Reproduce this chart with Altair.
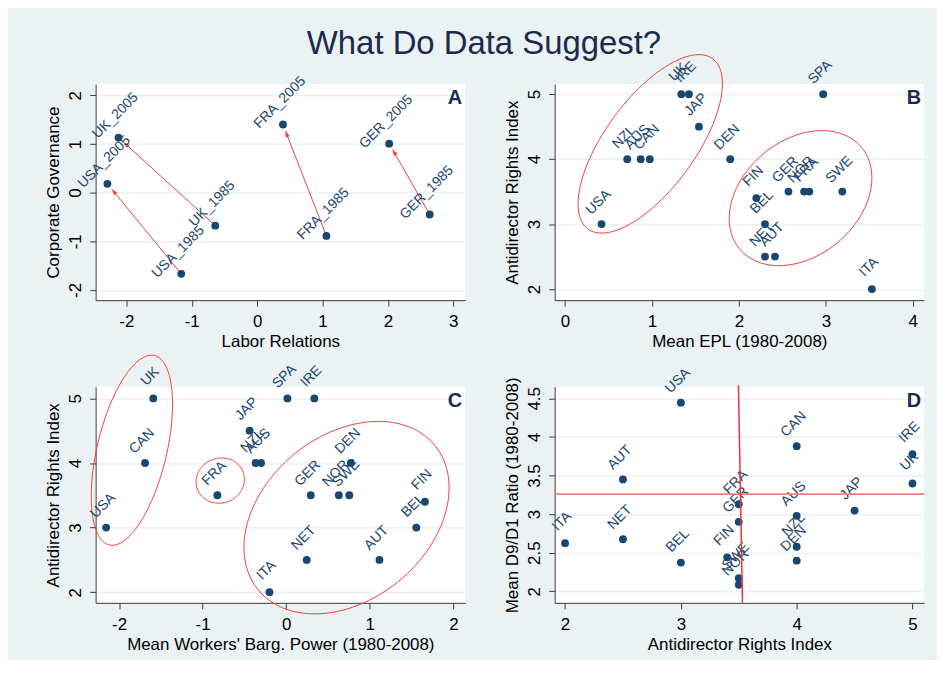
import altair as alt
import pandas as pd
import numpy as np

title_text = "What Do Data Suggest?"

# ---------------- Panel A ----------------
a_labels = ["USA_1985", "USA_2005", "UK_1985", "UK_2005",
            "FRA_1985", "FRA_2005", "GER_1985", "GER_2005"]
a_x = [-1.16, -2.29, -0.64, -2.12, 1.06, 0.395, 2.64, 2.02]
a_y = [-1.67, 0.18, -0.68, 1.13, -0.89, 1.40, -0.45, 1.005]
arrow_from = ["USA_1985", "UK_1985", "FRA_1985", "GER_1985"]
arrow_to = ["USA_2005", "UK_2005", "FRA_2005", "GER_2005"]

# ---------------- Panel B ----------------
b_countries = ["USA", "NZL", "AUS", "CAN", "UK", "IRE", "JAP", "DEN", "SPA",
               "FIN", "BEL", "NET", "AUT", "GER", "NOR", "FRA", "SWE", "ITA"]
b_epl = [0.42, 0.715, 0.87, 0.975, 1.337, 1.425, 1.54, 1.90, 2.97,
         2.20, 2.30, 2.30, 2.415, 2.57, 2.75, 2.81, 3.19, 3.53]
b_adri = [3, 4, 4, 4, 5, 5, 4.5, 4, 5, 3.4, 3, 2.5, 2.5, 3.5, 3.5, 3.5, 3.5, 2]

# ---------------- Panel C ----------------
c_countries = ["USA", "CAN", "UK", "FRA", "JAP", "NZL", "AUS", "SPA", "IRE",
               "ITA", "NET", "GER", "NOR", "SWE", "DEN", "AUT", "BEL", "FIN"]
c_wbp = [-2.154, -1.689, -1.59, -0.823, -0.437, -0.366, -0.30, 0.015, 0.337,
         -0.20, 0.246, 0.294, 0.63, 0.755, 0.774, 1.116, 1.557, 1.66]
c_adri = [3, 4, 5, 3.5, 4.5, 4, 4, 5, 5, 2, 2.5, 3.5, 3.5, 3.5, 4, 2.5, 3, 3.4]

# ---------------- Panel D ----------------
d_countries = ["USA", "CAN", "IRE", "UK", "AUT", "JAP", "AUS", "FRA", "GER",
               "ITA", "NET", "BEL", "FIN", "NZL", "DEN", "SWE", "NOR"]
d_adri = [3, 4, 5, 5, 2.5, 4.5, 4, 3.5, 3.5, 2, 2.5, 3, 3.4, 4, 4, 3.5, 3.5]
d_ratio = [4.444, 3.88, 3.777, 3.397, 3.449, 3.046, 2.978, 3.128, 2.90,
           2.623, 2.674, 2.372, 2.44, 2.577, 2.397, 2.17, 2.085]
d_hline_y = [3.26]
d_vline_x = [3.497, 3.532]
d_vline_y = [4.67, 1.85]

# axis domains and ticks
a_xdom, a_ydom = [-2.47, 3.18], [-2.21, 2.23]
b_xdom, b_ydom = [-0.12, 4.13], [1.83, 5.155]
c_xdom, c_ydom = [-2.28, 2.14], [1.835, 5.18]
d_xdom, d_ydom = [1.91, 5.10], [1.85, 4.65]
a_xt, a_yt = [-2, -1, 0, 1, 2, 3], [-2, -1, 0, 1, 2]
b_xt, b_yt = [0, 1, 2, 3, 4], [2, 3, 4, 5]
c_xt, c_yt = [-2, -1, 0, 1, 2], [2, 3, 4, 5]
d_xt, d_yt = [2, 3, 4, 5], [2, 2.5, 3, 3.5, 4, 4.5]

# ellipses: centre (data), semi-axes (px), rotation (deg)
b_ellipses = [(0.98, 4.235, 106, 45.3, 53.8), (2.709, 3.40, 79.7, 58.1, 39.8)]
c_ellipses = [(-1.846, 4.197, 97.8, 34.9, 76.6), (-0.789, 3.728, 24.5, 22.5, 20),
              (0.722, 3.154, 114.6, 82.6, 39.2)]

W, H = 371, 217
NAVY = "#1A476F"
RED = "#f04040"
FONT = "Liberation Sans"
AX_FS = 17


def sc(dom):
    return alt.Scale(domain=dom, nice=False, zero=False)


def x_axis(title, vals):
    return alt.Axis(title=title, values=vals, grid=False, tickSize=6,
                    labelPadding=20.5, labelBaseline="alphabetic", labelFlush=False,
                    labelOverlap=False, labelExpr="'' + datum.value",
                    titleBaseline="alphabetic", titleAlign="center",
                    titleX=W / 2, titleY=46.5)


def y_axis(title, vals):
    return alt.Axis(title=title, values=vals, grid=True, gridColor="#EAF2F3",
                    gridWidth=1.5, tickSize=6, labelAngle=270, labelAlign="center",
                    labelBaseline="alphabetic", labelPadding=9.5, labelFlush=False,
                    labelOverlap=False, labelExpr="'' + datum.value",
                    titleAngle=270, titleBaseline="alphabetic", titleAlign="center",
                    titleX=-37, titleY=H / 2)


def ellipse_df(specs, xdom, ydom):
    sx = W / (xdom[1] - xdom[0])
    sy = H / (ydom[1] - ydom[0])
    rows = []
    t = np.linspace(0, 2 * np.pi, 121)
    for g, (cx, cy, a, b, th) in enumerate(specs):
        r = np.deg2rad(th)
        ox = a * np.cos(t) * np.cos(r) - b * np.sin(t) * np.sin(r)
        oy = a * np.cos(t) * np.sin(r) + b * np.sin(t) * np.cos(r)
        for i in range(len(t)):
            rows.append({"g": g, "i": i, "x": cx + ox[i] / sx, "y": cy + oy[i] / sy})
    return pd.DataFrame(rows)


class Enc:
    def __init__(self, xdom, ydom, xt, yt, xtitle, ytitle):
        self.xdom, self.ydom = xdom, ydom
        self.xa = x_axis(xtitle, xt)
        self.ya = y_axis(ytitle, yt)

    def X(self, f="x"):
        return alt.X(f + ":Q", scale=sc(self.xdom), axis=self.xa)

    def Y(self, f="y"):
        return alt.Y(f + ":Q", scale=sc(self.ydom), axis=self.ya)


def panel(df, E, letter, extra_below=None, extra_above=None):
    layers = []
    if extra_below:
        layers += extra_below
    labels = alt.Chart(df).mark_text(angle=315, align="center", baseline="middle",
                                     dx=13.4, dy=-17.7, fontSize=14, font=FONT,
                                     color=NAVY).encode(x=E.X(), y=E.Y(), text="lab:N")
    points = alt.Chart(df).mark_point(filled=True, size=62, opacity=1, color=NAVY).encode(
        x=E.X(), y=E.Y())
    layers += [labels, points]
    if extra_above:
        layers += extra_above
    let = alt.Chart(pd.DataFrame({"t": [letter]})).mark_text(
        align="right", baseline="top", fontSize=20, fontWeight="bold", font=FONT,
        color="#1c2d50").encode(x=alt.value(W - 3), y=alt.value(4), text="t:N")
    layers.append(let)
    return alt.layer(*layers).properties(width=W, height=H)


# ---- A ----
EA = Enc(a_xdom, a_ydom, a_xt, a_yt, "Labor Relations", "Corporate Governance")
dfA = pd.DataFrame({"lab": a_labels, "x": a_x, "y": a_y})
sxA = W / (a_xdom[1] - a_xdom[0])
syA = H / (a_ydom[1] - a_ydom[0])
arows = []
for f, t in zip(arrow_from, arrow_to):
    x1, y1 = a_x[a_labels.index(f)], a_y[a_labels.index(f)]
    x2, y2 = a_x[a_labels.index(t)], a_y[a_labels.index(t)]
    dxp, dyp = (x2 - x1) * sxA, (y2 - y1) * syA
    L = np.hypot(dxp, dyp)
    ux, uy = dxp / L, dyp / L
    back = 10.0
    hx, hy = x2 - ux * back / sxA, y2 - uy * back / syA
    ang = (np.degrees(np.arctan2(dxp, dyp)) + 360) % 360
    arows.append({"x": x1, "y": y1, "hx": hx, "hy": hy, "ang": ang})
dfArr = pd.DataFrame(arows)
arrow_lines = alt.Chart(dfArr).mark_rule(color=RED, strokeWidth=1).encode(
    x=EA.X(), y=EA.Y(), x2="hx:Q", y2="hy:Q")
arrow_heads = alt.Chart(dfArr).mark_point(
    shape="M0,-1L-0.5,0.8L0.5,0.8Z", filled=True, size=64, opacity=1, color=RED).encode(
    x=EA.X("hx"), y=EA.Y("hy"), angle=alt.Angle("ang:Q", scale=None))
title_mark = alt.Chart(pd.DataFrame({"t": [title_text]})).mark_text(
    align="center", baseline="alphabetic", fontSize=33, font=FONT, color="#1c2a4c").encode(
    x=alt.value(390), y=alt.value(-30.7), text="t:N")
chartA = panel(dfA, EA, "A", extra_below=[arrow_lines, arrow_heads], extra_above=[title_mark])

# ---- B ----
EB = Enc(b_xdom, b_ydom, b_xt, b_yt, "Mean EPL (1980-2008)", "Antidirector Rights Index")
dfB = pd.DataFrame({"lab": b_countries, "x": b_epl, "y": b_adri})
ellB = alt.Chart(ellipse_df(b_ellipses, b_xdom, b_ydom)).mark_line(
    color=RED, strokeWidth=1, clip=False).encode(
    x=EB.X(), y=EB.Y(), detail="g:N", order="i:Q")
chartB = panel(dfB, EB, "B", extra_below=[ellB])

# ---- C ----
EC = Enc(c_xdom, c_ydom, c_xt, c_yt, "Mean Workers' Barg. Power (1980-2008)",
         "Antidirector Rights Index")
dfC = pd.DataFrame({"lab": c_countries, "x": c_wbp, "y": c_adri})
ellC = alt.Chart(ellipse_df(c_ellipses, c_xdom, c_ydom)).mark_line(
    color=RED, strokeWidth=1, clip=False).encode(
    x=EC.X(), y=EC.Y(), detail="g:N", order="i:Q")
chartC = panel(dfC, EC, "C", extra_below=[ellC])

# ---- D ----
ED = Enc(d_xdom, d_ydom, d_xt, d_yt, "Antidirector Rights Index",
         "Mean D9/D1 Ratio (1980-2008)")
dfD = pd.DataFrame({"lab": d_countries, "x": d_adri, "y": d_ratio})
hline = alt.Chart(pd.DataFrame({"y": d_hline_y})).mark_rule(
    color="#f07f7f", strokeWidth=1.8).encode(y=ED.Y())
vline = alt.Chart(pd.DataFrame({"x": [d_vline_x[0]], "x2": [d_vline_x[1]],
                                "y": [d_vline_y[0]], "y2": [d_vline_y[1]]})).mark_rule(
    color="#e8363c", strokeWidth=1.5, clip=False).encode(
    x=ED.X(), x2="x2:Q", y=ED.Y(), y2="y2:Q")
chartD = panel(dfD, ED, "D", extra_above=[hline, vline])

chart = alt.concat(chartA, chartB, chartC, chartD, columns=2,
                   spacing={"row": 87, "column": 90}, bounds="flush").configure(
    background="#EAF2F3", font=FONT,
    padding={"left": 36, "top": 18, "right": 12, "bottom": 6}).configure_view(
    stroke=None, fill="white").configure_axis(
    domainColor="#3a3a3a", tickColor="#3a3a3a", labelColor="black", titleColor="black",
    labelFontSize=AX_FS, titleFontSize=AX_FS, titleFontWeight="normal",
    labelFont=FONT, titleFont=FONT, domainWidth=1, tickWidth=1)

chart.save("out.html", embed_options={"renderer": "svg", "actions": False})
